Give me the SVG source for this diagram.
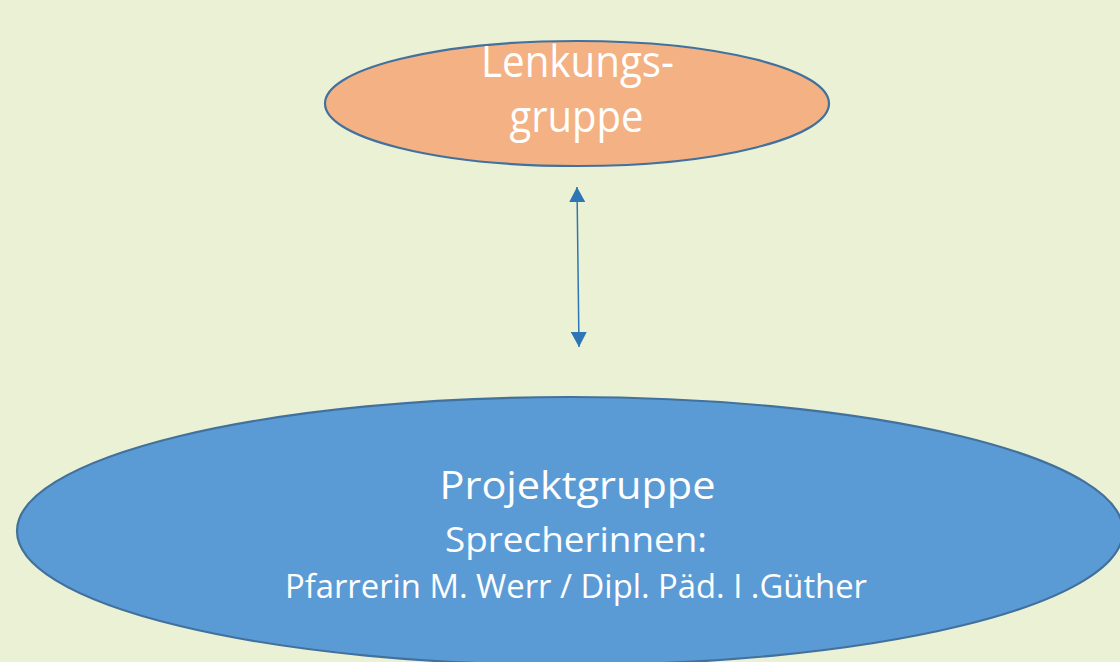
<svg xmlns="http://www.w3.org/2000/svg" width="1120" height="662" viewBox="0 0 1120 662">
  <style>
    .node { stroke: #41719C; stroke-width: 2.2; }
    .lbl { font-family: "Open Sans", "Liberation Sans", sans-serif; fill: #FFFFFF; text-anchor: middle; }
    .conn { stroke: #2E75B6; stroke-width: 1.5; fill: none; }
  </style>
  <defs>
    <marker id="tri" viewBox="0 0 15 16" refX="15" refY="8" markerWidth="15" markerHeight="16" markerUnits="userSpaceOnUse" orient="auto-start-reverse">
      <path d="M0,0 L15,8 L0,16 z" fill="#2E75B6"/>
    </marker>
  </defs>
  <rect x="0" y="0" width="1120" height="662" fill="#EBF1D4"/>
  <g id="lenkungsgruppe">
    <ellipse class="node" cx="577" cy="103.5" rx="252" ry="62.5" fill="#F4B183"/>
    <text class="lbl" x="577.5" y="77" font-size="44" textLength="193" lengthAdjust="spacingAndGlyphs">Lenkungs-</text>
    <text class="lbl" x="576.5" y="132" font-size="44" textLength="134" lengthAdjust="spacingAndGlyphs">gruppe</text>
  </g>
  <g id="projektgruppe">
    <ellipse class="node" cx="570" cy="531" rx="553" ry="134" fill="#5B9BD5"/>
    <text class="lbl" x="577.5" y="499" font-size="38" textLength="276" lengthAdjust="spacingAndGlyphs">Projektgruppe</text>
    <text class="lbl" x="576" y="552" font-size="34" textLength="262" lengthAdjust="spacingAndGlyphs">Sprecherinnen:</text>
    <text class="lbl" x="576" y="598" font-size="32" textLength="582" lengthAdjust="spacingAndGlyphs">Pfarrerin M. Werr / Dipl. Päd. I .Güther</text>
  </g>
  <g id="connectors">
    <line class="conn" x1="577" y1="187" x2="579" y2="347" marker-start="url(#tri)" marker-end="url(#tri)"/>
  </g>
</svg>
